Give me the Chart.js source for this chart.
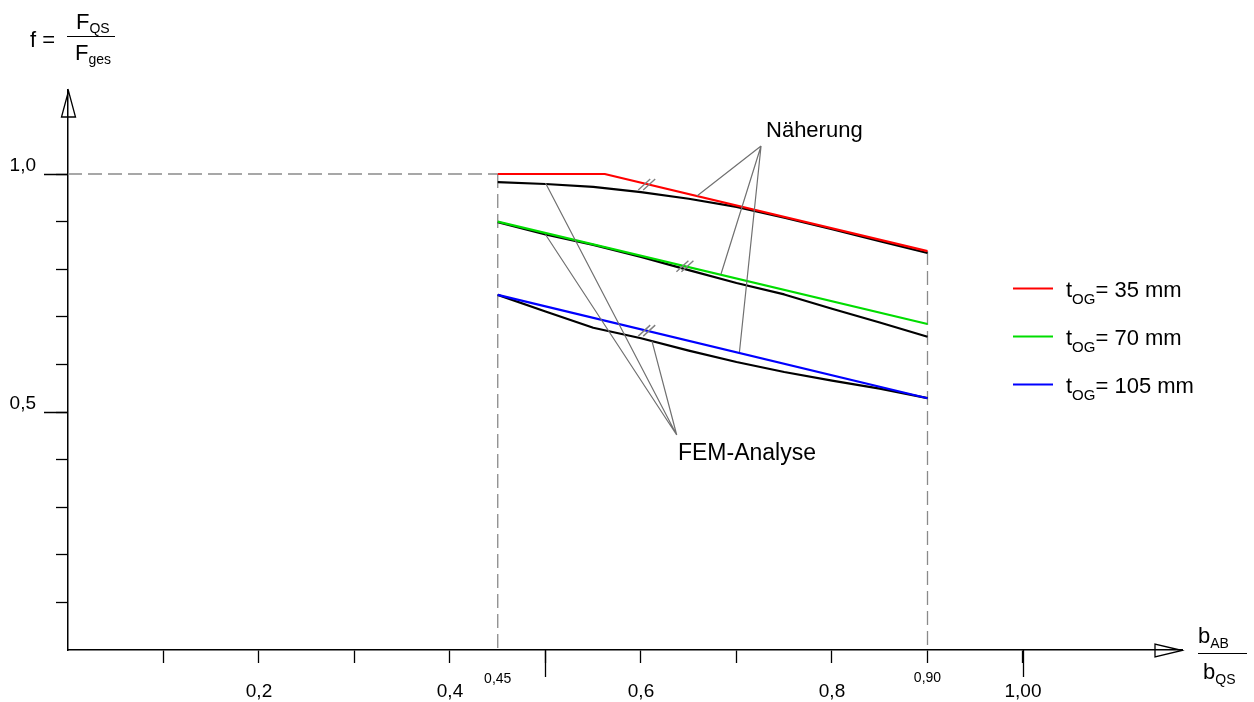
<!DOCTYPE html>
<html>
<head>
<meta charset="utf-8">
<script src="https://cdn.jsdelivr.net/npm/chart.js@4/dist/chart.umd.min.js"></script>
<style>
html,body{margin:0;padding:0;background:#fff;}
canvas{display:block;}
</style>
</head>
<body>
<canvas id="c" width="1254" height="702"></canvas>
<script>
// ---------- data ----------
const xTickValues = [0.1, 0.2, 0.3, 0.4, 0.5, 0.6, 0.7, 0.8, 0.9, 1.0];
const xTickLabels = ['', '0,2', '', '0,4', '', '0,6', '', '0,8', '', '1,00'];
const yTickValues = [0.1, 0.2, 0.3, 0.4, 0.5, 0.6, 0.7, 0.8, 0.9, 1.0];
const yTickLabels = ['', '', '', '', '0,5', '', '', '', '', '1,0'];
const xLongTicks = [0.5, 1.0];
const yLongTicks = [0.5, 1.0];
const xMarkValues = [0.45, 0.90];
const xMarkLabels = ['0,45', '0,90'];

const thickness = [35, 70, 105];

// Näherung (approximation)
const approxX35 = [0.45, 0.562, 0.90];
const approx35 = [1.000, 1.000, 0.838];
const approxX70 = [0.45, 0.90];
const approx70 = [0.900, 0.685];
const approxX105 = [0.45, 0.90];
const approx105 = [0.746, 0.529];

// FEM-Analyse
const femX = [0.45, 0.50, 0.55, 0.60, 0.65, 0.70, 0.75, 0.80, 0.85, 0.90];
const fem35 = [0.983, 0.979, 0.973, 0.962, 0.948, 0.931, 0.908, 0.884, 0.859, 0.834];
const fem70 = [0.899, 0.873, 0.851, 0.826, 0.798, 0.771, 0.747, 0.717, 0.688, 0.658];
const fem105 = [0.746, 0.711, 0.677, 0.655, 0.629, 0.605, 0.584, 0.566, 0.549, 0.529];

// dashed reference lines
const refHX = [0, 0.45];
const refHY = [1.0, 1.0];
const refV1X = [0.45, 0.45];
const refV1Y = [1.0, 0];
const refV2X = [0.90, 0.90];
const refV2Y = [0.838, 0];

// annotations (data coordinates)
const naeherungApex = [0.7257, 1.0588];
const naeherungTargets = [[0.6586, 0.9538], [0.6838, 0.790], [0.7031, 0.626]];
const femApex = [0.6374, 0.4517];
const femTargets = [[0.500, 0.981], [0.500, 0.873], [0.6115, 0.649]];
const breakMarks = [[0.606, 0.978], [0.646, 0.806], [0.606, 0.671]];
const naeherungTextPos = [0.7309, 1.0771];
const femTextPos = [0.6387, 0.3992];

// ---------- helpers ----------
const FONT = '"Liberation Sans", Arial, sans-serif';
const colors = ['#ff0000', '#00dd00', '#0000ff'];
const pts = (xs, ys) => xs.map((x, i) => ({x: x, y: ys[i]}));

function lineDs(label, data, color, width, order, dash) {
  return {label, data, borderColor: color, backgroundColor: color, borderWidth: width,
    pointRadius: 0, tension: 0, fill: false, order, borderDash: dash || [],
    borderCapStyle: 'butt', borderJoinStyle: 'round'};
}

const datasets = [
  lineDs('t_OG= 35 mm', pts(approxX35, approx35), colors[0], 2.2, 0),
  lineDs('t_OG= 70 mm', pts(approxX70, approx70), colors[1], 2.2, 0),
  lineDs('t_OG= 105 mm', pts(approxX105, approx105), colors[2], 2.2, 0),
  lineDs('FEM 35', pts(femX, fem35), '#000', 2.2, 1),
  lineDs('FEM 70', pts(femX, fem70), '#000', 2.2, 1),
  lineDs('FEM 105', pts(femX, fem105), '#000', 2.2, 1),
  lineDs('ref h', pts(refHX, refHY), '#8a8a8a', 1.3, 2, [14, 6]),
  lineDs('ref v1', pts(refV1X, refV1Y), '#8a8a8a', 1.3, 2, [14, 6]),
  lineDs('ref v2', pts(refV2X, refV2Y), '#8a8a8a', 1.3, 2, [14, 6])
];

function subText(ctx, parts, x, y) {
  let cx = x;
  parts.forEach(([t, size, dy]) => {
    ctx.font = size + 'px ' + FONT;
    ctx.fillText(t, cx, y + dy);
    cx += ctx.measureText(t).width;
  });
  return cx;
}

const extras = {
  id: 'extras',
  afterDatasetsDraw(chart) {
    const ctx = chart.ctx;
    const ca = chart.chartArea;
    const sx = chart.scales.x, sy = chart.scales.y;
    const X = v => sx.getPixelForValue(v);
    const Y = v => sy.getPixelForValue(v);
    ctx.save();

    // long ticks
    ctx.strokeStyle = '#000';
    ctx.lineWidth = 1.3;
    ctx.beginPath();
    xLongTicks.forEach(v => { const p = Math.round(X(v)) + 0.5; ctx.moveTo(p, ca.bottom); ctx.lineTo(p, ca.bottom + 27); });
    yLongTicks.forEach(v => { const p = Math.round(Y(v)) + 0.5; ctx.moveTo(ca.left - 24, p); ctx.lineTo(ca.left, p); });
    ctx.stroke();

    // arrows (hollow)
    ctx.lineWidth = 1.3;
    ctx.beginPath();
    const ax = Math.round(ca.left) + 0.5, ayTop = ca.top + 1;
    ctx.moveTo(ax, ayTop); ctx.lineTo(ax - 7, ayTop + 26); ctx.lineTo(ax + 7, ayTop + 26); ctx.closePath();
    const by = Math.round(ca.bottom) + 0.5, bxTip = ca.right;
    ctx.moveTo(bxTip, by); ctx.lineTo(bxTip - 27, by - 6.5); ctx.lineTo(bxTip - 27, by + 6.5); ctx.closePath();
    ctx.stroke();

    // small x mark labels
    ctx.fillStyle = '#000';
    ctx.textAlign = 'center';
    ctx.textBaseline = 'alphabetic';
    ctx.font = '14px ' + FONT;
    xMarkValues.forEach((v, i) => ctx.fillText(xMarkLabels[i], X(v), ca.bottom + 33 - i));

    // axis titles
    ctx.textAlign = 'left';
    ctx.font = '22px ' + FONT;
    ctx.fillText('f =', 30, 47);
    subText(ctx, [['F', 22, 0], ['QS', 14, 4]], 76, 29);
    subText(ctx, [['F', 22, 0], ['ges', 14, 4]], 75, 60);
    ctx.lineWidth = 1.2;
    ctx.beginPath(); ctx.moveTo(67, 36.5); ctx.lineTo(115, 36.5); ctx.stroke();

    subText(ctx, [['b', 22, 0], ['AB', 14, 5]], 1198, 643);
    subText(ctx, [['b', 22, 0], ['QS', 14, 5]], 1203, 679);
    ctx.beginPath(); ctx.moveTo(1198, 653.5); ctx.lineTo(1247, 653.5); ctx.stroke();

    // leader lines
    ctx.strokeStyle = '#707070';
    ctx.lineWidth = 1.2;
    ctx.beginPath();
    naeherungTargets.forEach(t => { ctx.moveTo(X(naeherungApex[0]), Y(naeherungApex[1])); ctx.lineTo(X(t[0]), Y(t[1])); });
    femTargets.forEach(t => { ctx.moveTo(X(femApex[0]), Y(femApex[1])); ctx.lineTo(X(t[0]), Y(t[1])); });
    ctx.stroke();

    // break marks
    ctx.strokeStyle = '#808080';
    ctx.lineWidth = 1.4;
    ctx.beginPath();
    breakMarks.forEach(b => {
      const px = X(b[0]), py = Y(b[1]);
      [-2.5, 2.5].forEach(o => {
        ctx.moveTo(px + o - 6, py + 5.5);
        ctx.lineTo(px + o + 6, py - 5.5);
      });
    });
    ctx.stroke();

    // annotation texts
    ctx.fillStyle = '#000';
    ctx.font = '22px ' + FONT;
    ctx.fillText('Näherung', X(naeherungTextPos[0]), Y(naeherungTextPos[1]));
    ctx.font = '23px ' + FONT;
    ctx.fillText('FEM-Analyse', X(femTextPos[0]), Y(femTextPos[1]));

    // legend
    thickness.forEach((t, i) => {
      const ly = 288 + i * 48;
      ctx.strokeStyle = colors[i];
      ctx.lineWidth = 2;
      ctx.beginPath(); ctx.moveTo(1013, ly + 0.5); ctx.lineTo(1053, ly + 0.5); ctx.stroke();
      ctx.fillStyle = '#000';
      subText(ctx, [['t', 22, 0], ['OG', 15, 7], ['= ' + t + ' mm', 22, 0]], 1066, ly + 9);
    });

    ctx.restore();
  }
};

new Chart(document.getElementById('c'), {
  type: 'line',
  data: {datasets},
  options: {
    responsive: false,
    animation: false,
    devicePixelRatio: 1,
    layout: {padding: {top: 90, right: 72, left: 0, bottom: 0}},
    plugins: {legend: {display: false}, tooltip: {enabled: false}},
    scales: {
      x: {
        type: 'linear', position: 'bottom', min: 0, max: 1.1665,
        afterFit: s => { s.height = 52; },
        afterBuildTicks: s => { s.ticks = xTickValues.map(v => ({value: v})); },
        grid: {display: true, drawOnChartArea: false, drawTicks: true, tickLength: 13, tickColor: '#000', tickWidth: 1.3},
        border: {display: true, color: '#000', width: 1.5},
        ticks: {autoSkip: false, maxRotation: 0, padding: 17, color: '#000',
          font: {family: FONT, size: 19},
          callback: (v, i) => xTickLabels[i]}
      },
      y: {
        type: 'linear', position: 'left', min: 0, max: 1.1765,
        afterFit: s => { s.width = 68; },
        afterBuildTicks: s => { s.ticks = yTickValues.map(v => ({value: v})); },
        grid: {display: true, drawOnChartArea: false, drawTicks: true, tickLength: 12, tickColor: '#000', tickWidth: 1.3},
        border: {display: true, color: '#000', width: 1.5},
        ticks: {autoSkip: false, padding: 20, labelOffset: -8, color: '#000',
          font: {family: FONT, size: 19},
          callback: (v, i) => yTickLabels[i]}
      }
    }
  },
  plugins: [extras]
});
</script>
</body>
</html>
